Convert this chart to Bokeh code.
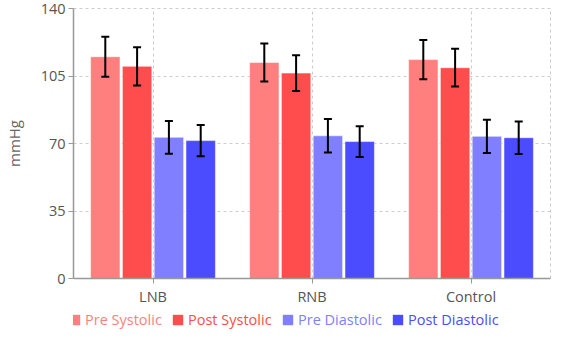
from bokeh.plotting import figure
from bokeh.models import (ColumnDataSource, FactorRange, Range1d, FixedTicker,
                          Whisker, TeeHead, Legend, LegendItem)
from bokeh.transform import dodge
from bokeh.layouts import column
from bokeh.embed import file_html
from bokeh.resources import INLINE

categories = ["LNB", "RNB", "Control"]
series = ["Pre Systolic", "Post Systolic", "Pre Diastolic", "Post Diastolic"]
pre_systolic = [115.0, 112.0, 113.5]
post_systolic = [110.0, 106.5, 109.3]
pre_diastolic = [73.2, 74.0, 73.7]
post_diastolic = [71.5, 71.0, 73.0]
pre_systolic_sd = [10.4, 9.9, 10.2]
post_systolic_sd = [9.9, 9.3, 9.8]
pre_diastolic_sd = [8.5, 8.7, 8.6]
post_diastolic_sd = [8.1, 8.0, 8.4]
y_ticks = [0, 35, 70, 105, 140]

colors = ["#FF7F7F", "#FF4C4C", "#7F7FFF", "#4C4CFF"]
offsets = [-0.3, -0.1, 0.1, 0.3]
means = [pre_systolic, post_systolic, pre_diastolic, post_diastolic]
sds = [pre_systolic_sd, post_systolic_sd, pre_diastolic_sd, post_diastolic_sd]

FONT = "Open Sans"
FS = "14.5px"

p = figure(width=554, height=308, x_range=FactorRange(factors=categories, range_padding=0),
           y_range=Range1d(0, 140), output_backend="svg", toolbar_location=None,
           min_border_left=62, min_border_right=4, min_border_top=8, min_border_bottom=28)

p.yaxis.ticker = FixedTicker(ticks=y_ticks)
p.yaxis.axis_label = "mmHg"
p.yaxis.axis_label_text_font = FONT
p.yaxis.axis_label_text_font_style = "normal"
p.yaxis.axis_label_text_font_size = "15px"
p.yaxis.axis_label_text_color = "#666666"
p.yaxis.axis_label_standoff = 14
for ax in (p.xaxis, p.yaxis):
    ax.major_label_text_font = FONT
    ax.major_label_text_font_size = FS
    ax.major_label_text_color = "#555555"
    ax.axis_line_color = "#999999"
    ax.axis_line_width = 1.5
    ax.major_tick_line_color = "#999999"
    ax.major_tick_in = 0
    ax.major_tick_out = 5
    ax.minor_tick_line_color = None
p.yaxis.major_label_standoff = 3
p.xaxis.major_label_standoff = 3

p.xgrid.grid_line_color = "#cccccc"
p.xgrid.grid_line_dash = "3 3"
p.ygrid.grid_line_color = "#cccccc"
p.ygrid.grid_line_dash = "3 3"
p.outline_line_color = "#cccccc"
p.outline_line_dash = "3 3"

# legend strip below the chart
lf = figure(width=554, height=21, x_range=FactorRange(factors=categories, range_padding=0),
            y_range=Range1d(500, 600), output_backend="svg", toolbar_location=None,
            x_axis_location=None, y_axis_location=None, min_border=0)
lf.outline_line_color = None
lf.grid.grid_line_color = None

leg_x = [-5, 98, 208, 318]
for name, vals, sd, col, off, lx in zip(series, means, sds, colors, offsets, leg_x):
    src = ColumnDataSource(dict(cat=categories, val=vals,
                                upper=[v + s for v, s in zip(vals, sd)],
                                lower=[v - s for v, s in zip(vals, sd)]))
    p.vbar(x=dodge("cat", off, range=p.x_range), top="val", width=0.185, source=src,
           fill_color=col, line_color="white", line_alpha=0.5, line_width=1)
    w = Whisker(base=dodge("cat", off, range=p.x_range), upper="upper", lower="lower",
                source=src, line_color="black", line_width=2, level="overlay",
                upper_head=TeeHead(size=8, line_color="black", line_width=2),
                lower_head=TeeHead(size=8, line_color="black", line_width=2))
    p.add_layout(w)
    lr = lf.vbar(x=dodge("cat", off, range=lf.x_range), top="val", width=0.185, source=src,
                 fill_color=col, line_color=None)
    lg = Legend(items=[LegendItem(label=name, renderers=[lr])], location=(lx, 0),
                orientation="horizontal", label_text_color=col, label_text_font=FONT,
                label_text_font_size=FS, glyph_width=13, glyph_height=13,
                label_standoff=4, padding=0, margin=0, spacing=0,
                border_line_color=None, background_fill_alpha=0)
    lf.add_layout(lg, "center")

open("out.html", "w").write(file_html(column(p, lf), INLINE))
